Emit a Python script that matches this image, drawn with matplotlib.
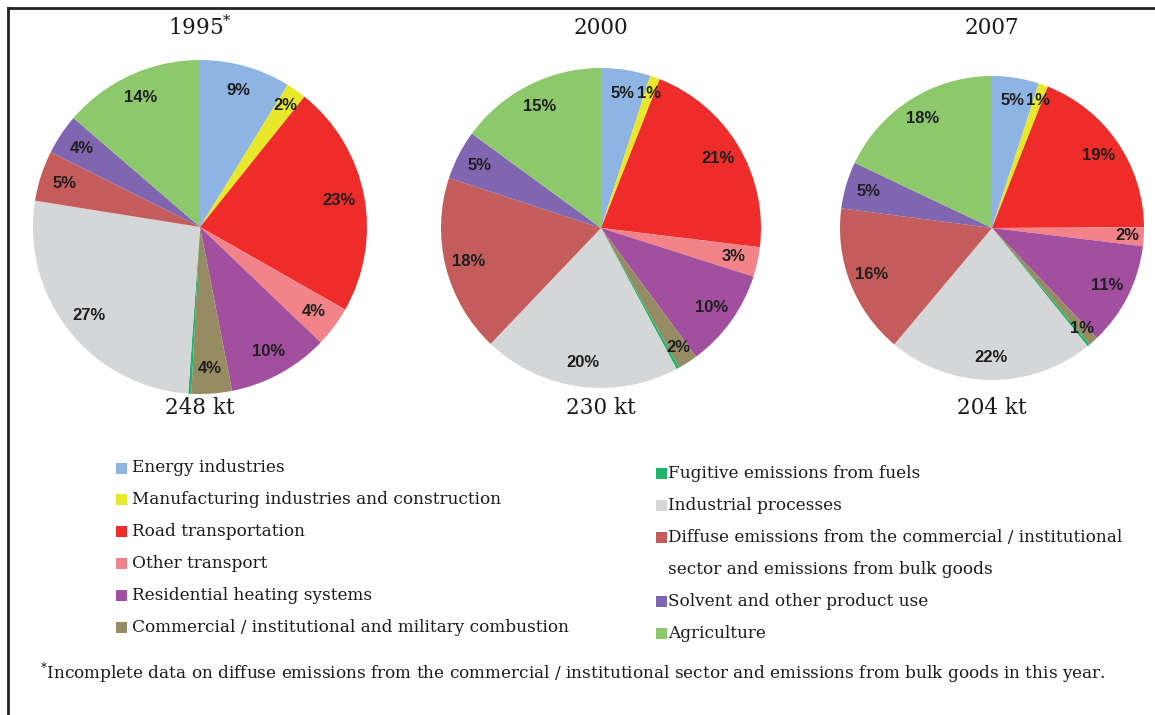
import numpy as np
import matplotlib
matplotlib.use("Agg")
import matplotlib.pyplot as plt
from matplotlib.patches import Rectangle
from matplotlib.lines import Line2D

plt.rcParams["mathtext.fontset"] = "dejavuserif"

# ---- data -------------------------------------------------------------
sectors = [
    "Energy industries",
    "Manufacturing industries and construction",
    "Road transportation",
    "Other transport",
    "Residential heating systems",
    "Commercial / institutional and military combustion",
    "Fugitive emissions from fuels",
    "Industrial processes",
    "Diffuse emissions from the commercial / institutional\nsector and emissions from bulk goods",
    "Solvent and other product use",
    "Agriculture",
]
colors = ["#8DB4E2", "#E8E82A", "#EE2D2A", "#F28489", "#A24F9F", "#968C64",
          "#22B46A", "#D5D6D8", "#C35C5A", "#8066B0", "#8DC96C"]

years = ["1995$^{*}$", "2000", "2007"]
totals = ["248 kt", "230 kt", "204 kt"]

share_1995 = [9, 2, 23, 4, 10, 4, 0.3, 27, 5, 4, 14]
share_2000 = [5, 1, 21, 3, 10, 2, 0.3, 20, 18, 5, 15]
share_2007 = [5, 1, 19, 2, 11, 1, 0.3, 22, 16, 5, 18]
shares = [share_1995, share_2000, share_2007]

# sectors without a printed percentage
unlabeled = {6}

footnote = ("$^{*}$Incomplete data on diffuse emissions from the commercial / institutional "
            "sector and emissions from bulk goods in this year.")

# ---- layout (pixels) --------------------------------------------------
W, H = 1155, 715
fig = plt.figure(figsize=(W / 100, H / 100), dpi=100)
fig.patch.set_facecolor("white")

SERIF = ["DejaVu Serif"]
SANS = ["Liberation Sans", "DejaVu Sans"]


def fx(x):
    return x / W


def fy(y):
    return 1 - y / H


pie_geom = [(200, 227, 167), (601, 228, 160), (992, 228, 152)]
title_y = 28
total_y = 408

for (cx, cy, r), vals, yr, tot in zip(pie_geom, shares, years, totals):
    ax = fig.add_axes([fx(cx - r), fy(cy + r), 2 * r / W, 2 * r / H])
    wedges, _ = ax.pie(vals, colors=colors, startangle=90, counterclock=False,
                       radius=1.0, wedgeprops=dict(linewidth=0))
    ax.set_xlim(-1, 1)
    ax.set_ylim(-1, 1)
    ax.set_aspect("equal")
    ax.axis("off")
    for i, (w, v) in enumerate(zip(wedges, vals)):
        if i in unlabeled:
            continue
        ang = np.deg2rad((w.theta1 + w.theta2) / 2)
        d = 0.85 if v >= 3 else 0.89
        ax.text(d * np.cos(ang), d * np.sin(ang), f"{v:g}%",
                ha="center", va="center", fontsize=12, fontweight="bold",
                family=SANS, color="#1e1e1e")
    fig.text(fx(cx), fy(title_y), yr, ha="center", va="center",
             fontsize=15.5, family=SERIF, color="#1a1a1a")
    fig.text(fx(cx), fy(total_y), tot, ha="center", va="center",
             fontsize=15.5, family=SERIF, color="#1a1a1a")

# ---- legend -----------------------------------------------------------
left_rows = [468, 499, 531, 563, 595, 627]
right_rows = [473, 505, 537, 601, 633]
sq = 11


def legend_item(x_sq, x_txt, y, color, label):
    fig.add_artist(Rectangle((fx(x_sq), fy(y + sq / 2)), sq / W, sq / H,
                             transform=fig.transFigure, facecolor=color,
                             edgecolor="none"))
    for k, line in enumerate(label.split("\n")):
        fig.text(fx(x_txt), fy(y + 32 * k), line, ha="left", va="center",
                 fontsize=12.2, family=SERIF, color="#1a1a1a")


for idx, y in zip(range(6), left_rows):
    legend_item(116, 132, y, colors[idx], sectors[idx])
for idx, y in zip(range(6, 11), right_rows):
    legend_item(656, 668, y, colors[idx], sectors[idx])

fig.text(fx(40), fy(673), footnote, ha="left", va="center",
         fontsize=12.2, family=SERIF, color="#1a1a1a")

# ---- frame ------------------------------------------------------------
fig.add_artist(Line2D([fx(8), fx(8)], [fy(8), 0], transform=fig.transFigure,
                      color="#222222", linewidth=2))
fig.add_artist(Line2D([fx(8), 1], [fy(8), fy(8)], transform=fig.transFigure,
                      color="#222222", linewidth=2))

fig.savefig("out.png", dpi=100, facecolor="white")
